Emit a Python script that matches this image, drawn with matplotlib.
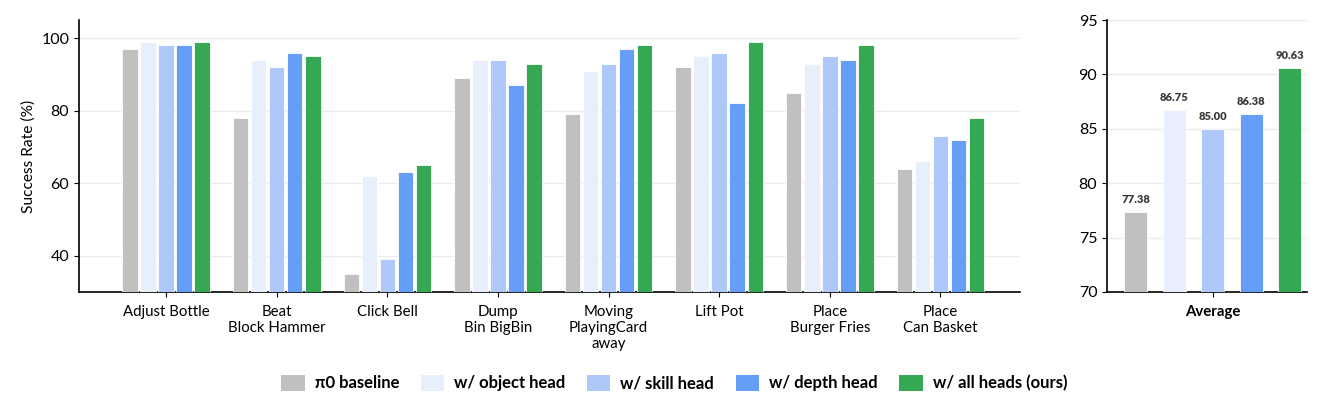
import numpy as np
import matplotlib
matplotlib.use("Agg")
import matplotlib.pyplot as plt
from matplotlib.patches import Patch

plt.rcParams["font.family"] = ["Lato", "DejaVu Sans"]

tasks = ["Adjust Bottle", "Beat\nBlock Hammer", "Click Bell", "Dump\nBin BigBin",
         "Moving\nPlayingCard\naway", "Lift Pot", "Place\nBurger Fries", "Place\nCan Basket"]
methods = ["π0 baseline", "w/ object head", "w/ skill head", "w/ depth head", "w/ all heads (ours)"]
colors = ["#c0c0c0", "#e8effc", "#aec8fa", "#669df6", "#34a853"]

baseline = [97, 78, 35, 89, 79, 92, 85, 64]
object_head = [99, 94, 62, 94, 91, 95, 93, 66]
skill_head = [98, 92, 39, 94, 93, 96, 95, 73]
depth_head = [98, 96, 63, 87, 97, 82, 94, 72]
all_heads = [99, 95, 65, 93, 98, 99, 98, 78]
series = [baseline, object_head, skill_head, depth_head, all_heads]

averages = [77.38, 86.75, 85.00, 86.38, 90.63]

fig = plt.figure(figsize=(13.22, 4.15), dpi=100)
ax = fig.add_axes([0.0598, 0.2964, 0.7118, 0.6554])
ax2 = fig.add_axes([0.8374, 0.2964, 0.1513, 0.6554])

x = np.arange(len(tasks))
pitch = 0.163
width = 0.14
for i, vals in enumerate(series):
    ax.bar(x + (i - 2) * pitch, vals, width, color=colors[i],
           edgecolor="white", linewidth=0.6, zorder=3)

ax.set_ylim(30, 105)
ax.set_xlim(-0.787, 7.72)
ax.set_yticks([40, 60, 80, 100])
ax.set_xticks(x)
ax.set_xticklabels(tasks, fontsize=10.8, linespacing=1.18)
ax.tick_params(axis="x", pad=6)
ax.tick_params(axis="y", labelsize=11.5)
ax.set_ylabel("Success Rate (%)", fontsize=11.2)
ax.grid(axis="y", color="#ebebeb", linewidth=1, zorder=0)
for s in ["top", "right"]:
    ax.spines[s].set_visible(False)
for s in ["left", "bottom"]:
    ax.spines[s].set_linewidth(1.2)

# average panel
apitch = 0.2
awidth = 0.12
for i, v in enumerate(averages):
    xp = (i - 2) * apitch
    ax2.bar(xp, v, awidth, color=colors[i], edgecolor="white", linewidth=0.6, zorder=3)
    ax2.text(xp, v + 0.6, f"{v:.2f}", ha="center", va="bottom", fontsize=8,
             fontweight="heavy", color="#3a3a3a")
ax2.set_ylim(70, 95)
ax2.set_xlim(-0.55, 0.49)
ax2.set_yticks([70, 75, 80, 85, 90, 95])
ax2.set_xticks([0])
ax2.set_xticklabels(["Average"], fontsize=10.8, fontweight="bold")
ax2.tick_params(axis="x", pad=6)
ax2.tick_params(axis="y", labelsize=11.5)
ax2.grid(axis="y", color="#ebebeb", linewidth=1, zorder=0)
for s in ["top", "right"]:
    ax2.spines[s].set_visible(False)
for s in ["left", "bottom"]:
    ax2.spines[s].set_linewidth(1.2)

handles = [Patch(facecolor=c, edgecolor="none") for c in colors]
fig.legend(handles, methods, loc="center", bbox_to_anchor=(0.51, 0.077), ncol=5,
           frameon=False, prop={"weight": "bold", "size": 12},
           handlelength=1.4, handleheight=1.1, columnspacing=1.3, handletextpad=0.6)

fig.savefig("out.png", dpi=100)
